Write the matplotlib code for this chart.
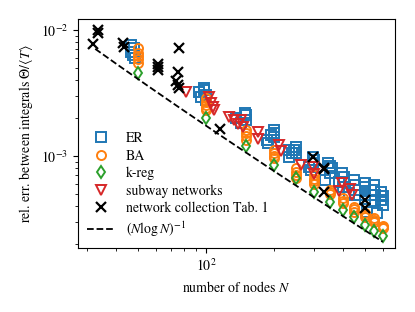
import numpy as np
import matplotlib.pyplot as plt

plt.rcParams['font.family'] = 'STIXGeneral'
plt.rcParams['mathtext.fontset'] = 'stix'
plt.rcParams['font.size'] = 10

# ER (blue squares)
er_n = [46.6, 48.0, 46.6, 47.5, 48.5,
        93, 98, 95, 100, 98, 100,
        136, 150, 150, 143, 148,
        186, 194, 200, 200, 188, 200,
        233, 250, 233, 245, 238, 250,
        283, 297, 300, 291, 297,
        346, 357, 350, 333, 350,
        396, 404, 404, 400, 384,
        447, 452, 452, 452, 425,
        500, 500, 500, 500, 500, 511,
        547, 547, 553, 553, 566,
        590, 600, 590, 600]
er_err = [7.6e-3, 7.2e-3, 6.7e-3, 6.3e-3, 6.0e-3,
          3.22e-3, 3.34e-3, 2.94e-3, 3.05e-3, 3.47e-3, 2.8e-3,
          2.0e-3, 2.11e-3, 1.93e-3, 1.83e-3, 2.19e-3,
          1.34e-3, 1.47e-3, 1.52e-3, 1.61e-3, 1.27e-3, 1.41e-3,
          1.12e-3, 1.18e-3, 9.8e-4, 1.12e-3, 1.06e-3, 1.05e-3,
          8.2e-4, 8.8e-4, 9.3e-4, 7.75e-4, 9.8e-4,
          8.8e-4, 8.0e-4, 7.3e-4, 6.45e-4, 8.4e-4,
          7.33e-4, 6.8e-4, 6.22e-4, 5.68e-4, 6.2e-4,
          6.45e-4, 5.87e-4, 5.37e-4, 4.9e-4, 5.1e-4,
          6.11e-4, 5.68e-4, 5.27e-4, 4.9e-4, 4.56e-4, 3.6e-4,
          5.87e-4, 5.37e-4, 4.9e-4, 4.4e-4, 3.5e-4,
          5.18e-4, 4.82e-4, 4.48e-4, 4.09e-4]

# BA (orange circles)
ba_n = [50] * 5 + [100] * 5 + [150] * 4 + [200] * 4 + [250] * 4 + [300] * 4 + \
       [350] * 3 + [400] * 3 + [450] * 3 + [500] * 3 + [550] * 3 + [600] * 3
ba_err = [7.2e-3, 6.6e-3, 6.2e-3, 5.9e-3, 5.5e-3,
          2.88e-3, 2.7e-3, 2.55e-3, 2.4e-3, 2.32e-3,
          1.6e-3, 1.52e-3, 1.44e-3, 1.34e-3,
          1.12e-3, 1.06e-3, 1.0e-3, 9.6e-4,
          8.0e-4, 7.5e-4, 7.1e-4, 6.7e-4,
          7.0e-4, 6.6e-4, 6.3e-4, 6.0e-4,
          5.4e-4, 5.2e-4, 5.0e-4,
          4.6e-4, 4.4e-4, 4.2e-4,
          3.95e-4, 3.8e-4, 3.6e-4,
          3.55e-4, 3.4e-4, 3.3e-4,
          3.2e-4, 3.1e-4, 3.0e-4,
          2.8e-4, 2.72e-4, 2.66e-4]

# k-regular (green diamonds)
kreg_n = [50, 100, 150, 200, 250, 300, 350, 400, 450, 500, 550, 600]
kreg_err = [4.56e-3, 2.0e-3, 1.2e-3, 8.49e-4, 6.69e-4, 5.18e-4,
            4.31e-4, 3.75e-4, 3.28e-4, 2.83e-4, 2.55e-4, 2.3e-4]

# subway networks (red triangles)
sub_n = [81.6, 103.1, 105.2, 107.4, 108.5, 126.4, 133.0, 138.6, 142.8, 145.8,
         169.8, 169.8, 210.4, 214.7, 263, 297, 300, 396, 387, 429, 438]
sub_err = [3.22e-3, 2.94e-3, 2.63e-3, 2.45e-3, 2.32e-3, 2.04e-3, 1.93e-3, 1.79e-3,
           1.93e-3, 1.70e-3, 1.55e-3, 1.36e-3, 1.22e-3, 1.10e-3, 8.49e-4, 8.18e-4,
           7.2e-4, 6.11e-4, 5.27e-4, 5.47e-4, 4.9e-4]

# network collection (black x)
col_n = [31.9, 33.6, 33.6, 43, 43.4, 61.4, 61.4, 61.4, 76, 75, 73.7, 75, 76,
         115, 297, 330, 332, 330, 500, 500]
col_err = [7.74e-3, 1.0e-2, 9.5e-3, 7.9e-3, 7.3e-3, 5.4e-3, 5.1e-3, 4.8e-3, 7.2e-3,
           4.6e-3, 3.9e-3, 3.66e-3, 3.47e-3, 1.64e-3, 9.8e-4, 8.0e-4, 7.9e-4,
           5.2e-4, 4.5e-4, 3.9e-4]

fig = plt.figure(figsize=(4.15, 3.12), dpi=100)
ax = fig.add_axes([0.188, 0.205, 0.764, 0.734])

ms = 6.5
mew = 1.4
ax.plot(er_n, er_err, 's', ms=ms, mfc='none', mec='tab:blue', mew=mew, label='ER')
ax.plot(ba_n, ba_err, 'o', ms=ms, mfc='none', mec='tab:orange', mew=mew, label='BA')
ax.plot(kreg_n, kreg_err, 'd', ms=ms, mfc='none', mec='tab:green', mew=mew, label='k-reg')
ax.plot(sub_n, sub_err, 'v', ms=7.5, mfc='none', mec='tab:red', mew=mew, label='subway networks')
ax.plot(col_n, col_err, 'x', ms=7, color='black', mew=1.6, label='network collection Tab. 1')

N = np.linspace(32.5, 600, 200)
ax.plot(N, 0.8 / (N * np.log(N)), '--', color='black', lw=1.3, label=r'$(N\log N)^{-1}$')

ax.set_xscale('log')
ax.set_yscale('log')
ax.set_xlim(27.3, 680)
ax.set_ylim(1.86e-4, 1.22e-2)
ax.set_xlabel(r'number of nodes $N$')
ax.set_ylabel(r'rel. err. between integrals $\Theta/\langle T\rangle$')
ax.legend(loc='lower left', frameon=False, fontsize=10, labelspacing=0.3,
          borderaxespad=0.25)

plt.savefig('out.png', dpi=100)
